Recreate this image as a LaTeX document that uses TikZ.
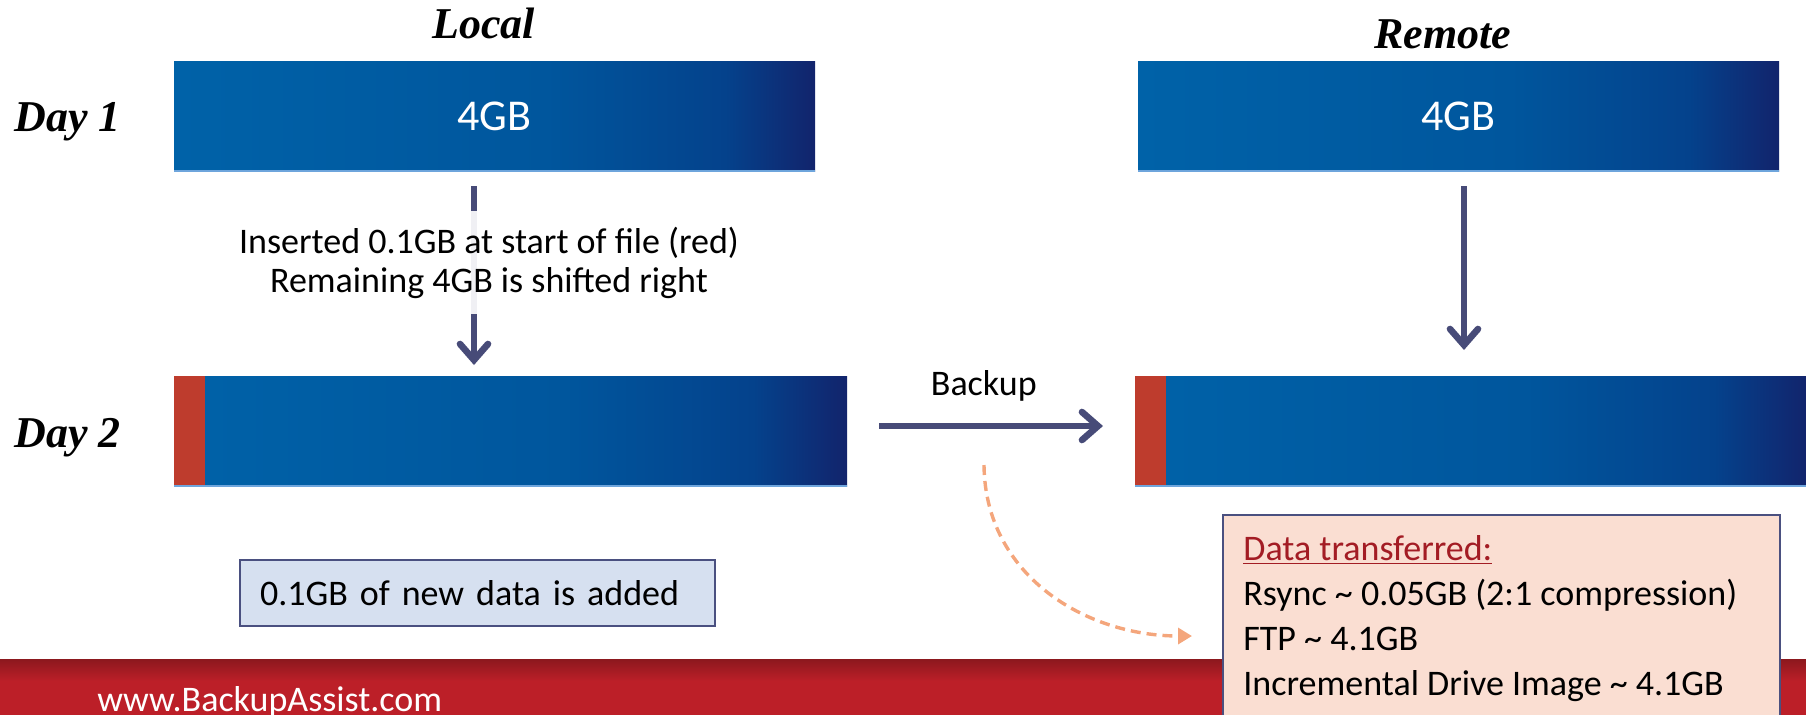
\documentclass[tikz,border=0pt]{standalone}
\usepackage{fontspec}
\setmainfont{Carlito}
\newfontfamily\titlefont{Liberation Serif}
\usetikzlibrary{arrows.meta}

\definecolor{barA}{RGB}{0,98,168}
\definecolor{barB}{RGB}{0,86,157}
\definecolor{barC}{RGB}{4,66,140}
\definecolor{barD}{RGB}{18,36,108}
\definecolor{partred}{RGB}{190,60,45}
\definecolor{baredge}{RGB}{110,165,220}
\definecolor{flowblue}{RGB}{71,75,120}
\definecolor{boxline}{RGB}{74,80,128}
\definecolor{addfill}{RGB}{214,224,240}
\definecolor{datafill}{RGB}{250,222,210}
\definecolor{titlered}{RGB}{163,28,36}
\definecolor{dashorange}{RGB}{244,166,124}
\definecolor{footred}{RGB}{188,31,40}
\definecolor{footdark}{RGB}{140,24,30}

\pgfdeclarehorizontalshading{barshade}{100bp}{color(0bp)=(barA); color(25bp)=(barA); color(54bp)=(barB); color(68bp)=(barC); color(75bp)=(barD); color(100bp)=(barD)}
\pgfdeclareverticalshading{footshade}{100bp}{color(0bp)=(footred); color(55bp)=(footred); color(75bp)=(footdark); color(100bp)=(footdark)}

\begin{document}
\begin{tikzpicture}[x=0.5pt,y=-0.5pt,
    bar/.style={shading=barshade, minimum width=320.5pt, minimum height=55pt, inner sep=0pt, outer sep=0pt, text=white, font=\fontsize{22}{22}\selectfont},
    newpart/.style={fill=partred, anchor=north west, minimum width=15.5pt, minimum height=55pt, inner sep=0pt, outer sep=0pt},
    title/.style={font=\titlefont\bfseries\itshape\fontsize{22}{22}\selectfont},
    body/.style={font=\fontsize{18}{22.5}\selectfont},
    flow/.style={draw=flowblue, line width=3.3pt, -{Straight Barb[length=8pt,width=14pt,line cap=round]}},
    note/.style={body, font=\fontsize{18}{19.5}\selectfont, align=center, fill=white, fill opacity=0.92, text opacity=1, inner xsep=4pt, inner ysep=8pt},
    addbox/.style={body, draw=boxline, fill=addfill, line width=1pt, minimum width=237.5pt, minimum height=33pt, text width=217.5pt, inner xsep=10pt, align=left},
    databox/.style={draw=boxline, fill=datafill, line width=1pt, minimum width=278.5pt, minimum height=121pt},
    dataflow/.style={draw=dashorange, line width=1.7pt, dash pattern=on 5pt off 3pt, -{Triangle[length=7pt,width=8pt]}}]
  \clip (0,0) rectangle (1806,714);
  \shade[shading=footshade] (0,659) rectangle (1806,714);
  \path (97,711) node[body, anchor=base west, inner sep=0pt, text=white] (site) {www.BackupAssist.com};

  \path (494.5,116) node[bar] (l1) {4GB\hspace{18pt}}
        (1458.5,116) node[bar] (r1) {4GB\hspace{18pt}}
        (510.5,431) node[bar, minimum width=336.5pt] (l2) {}
        (1471.5,431) node[bar, minimum width=336.5pt] (r2) {};
  \path (l2.north west) node[newpart] (l2new) {}
        (r2.north west) node[newpart] (r2new) {};
  \foreach \b in {l1,r1,l2,r2}
    \draw[baredge, line width=1pt] (\b.south west) -- (\b.south east);

  \path (483.5,38) node[title, anchor=base] (local) {Local}
        (1443,48) node[title, anchor=base] (remote) {Remote}
        (14,131) node[title, anchor=base west, inner sep=0pt] (day1) {Day 1}
        (14,447) node[title, anchor=base west, inner sep=0pt] (day2) {Day 2};

  \draw[flow, shorten <=7.5pt, shorten >=5.5pt] ([xshift=-10.25pt]l1.south) -- ([xshift=-10.25pt]l1.south |- l2.north);
  \path (489,292) node[note, anchor=base] (insert) {Inserted 0.1GB at start of file (red)\\Remaining 4GB is shifted right};
  \draw[flow, shorten <=7.5pt, shorten >=13pt] ([xshift=2.75pt]r1.south) -- ([xshift=2.75pt]r1.south |- r2.north);
  \draw[flow, shorten <=16pt, shorten >=16pt] ([yshift=2.5pt]l2.east) -- node[body, pos=0.475, anchor=base, yshift=15.5pt] (backup) {Backup} ([yshift=2.5pt]r2.west);

  \path (477.5,593) node[addbox] (added) {0.1GB of new data is added}
        (1501.5,636) node[databox] (data) {}
        (1243,695) node[body, anchor=base west, align=left, inner sep=0pt] (datatext) {\textcolor{titlered}{\underline{Data transferred:}}\\Rsync \textasciitilde{} 0.05GB (2:1 compression)\\FTP \textasciitilde{} 4.1GB\\Incremental Drive Image \textasciitilde{} 4.1GB};

  \coordinate (bk) at (984,465);
  \draw[dataflow, shorten >=15pt] (bk) .. controls (985,575) and (1085,636) .. (data.west);
\end{tikzpicture}
\end{document}
